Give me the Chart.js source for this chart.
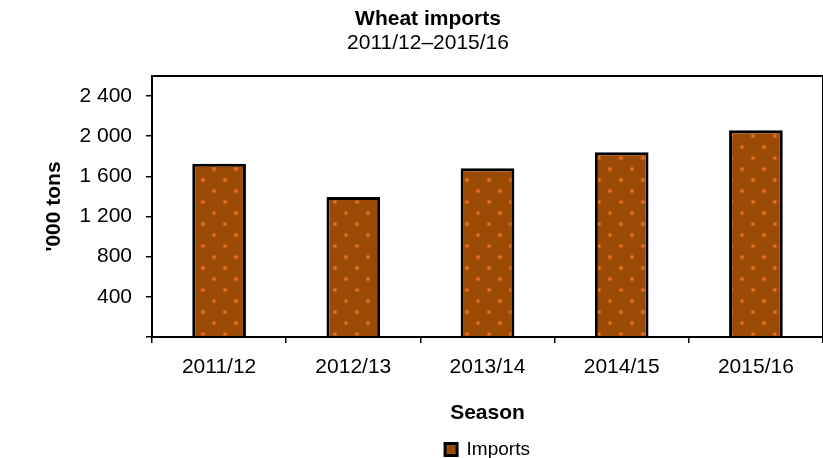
<!DOCTYPE html>
<html>
<head>
<meta charset="utf-8">
<script src="https://cdn.jsdelivr.net/npm/chart.js@4"></script>
<style>
    body { margin: 0; background: #fff; }
    canvas { display: block; }
</style>
</head>
<body>
<canvas id="chart" width="823" height="458"></canvas>
<script>
var seasons = ["2011/12", "2012/13", "2013/14", "2014/15", "2015/16"];
var imports = [1725, 1395, 1680, 1840, 2060];
var yTicks = [0, 400, 800, 1200, 1600, 2000, 2400];

var FONT = "'Liberation Sans', Arial, sans-serif";

// brown fill with staggered orange dots
function dotPattern() {
    var tile = document.createElement("canvas");
    tile.width = 22;
    tile.height = 22;
    var t = tile.getContext("2d");
    t.fillStyle = "#9b4a06";
    t.fillRect(0, 0, 22, 22);
    [[5, 4], [16, 15]].forEach(function (p) {
        t.fillStyle = "rgba(240,120,30,0.4)";
        t.beginPath();
        t.arc(p[0], p[1], 2.6, 0, Math.PI * 2);
        t.fill();
        t.fillStyle = "#ee761c";
        t.beginPath();
        t.arc(p[0], p[1], 1.2, 0, Math.PI * 2);
        t.fill();
    });
    return document.getElementById("chart").getContext("2d").createPattern(tile, "repeat");
}

function spaced(v) {
    return String(v).replace(/\B(?=(\d{3})+(?!\d))/g, " ");
}

var frame = {
    id: "frame",
    afterDraw: function (chart) {
        var a = chart.chartArea, ctx = chart.ctx;
        ctx.save();
        ctx.strokeStyle = "#000";
        ctx.lineWidth = 2;
        ctx.strokeRect(a.left, a.top, a.right - a.left, a.bottom - a.top);
        ctx.restore();
    }
};

var example = new Chart(document.getElementById("chart"), {
    type: "bar",
    data: {
        labels: seasons,
        datasets: [
            {
                label: "Imports",
                data: imports,
                backgroundColor: dotPattern(),
                borderColor: "#000",
                borderWidth: 3,
                barPercentage: 0.4,
                categoryPercentage: 1
            }
        ]
    },
    options: {
        responsive: false,
        animation: false,
        layout: { padding: { left: 24, right: -9, top: 0, bottom: -11 } },
        plugins: {
            title: {
                display: true,
                text: "Wheat imports",
                color: "#000",
                font: { family: FONT, size: 21, weight: "bold", lineHeight: 1 },
                padding: { top: 9, bottom: 3 }
            },
            subtitle: {
                display: true,
                text: "2011/12\u20132015/16",
                color: "#000",
                font: { family: FONT, size: 21, lineHeight: 1 },
                padding: { top: 0, bottom: 22 }
            },
            legend: {
                position: "bottom",
                fullSize: false,
                labels: {
                    color: "#000",
                    font: { family: FONT, size: 19 },
                    boxWidth: 12,
                    boxHeight: 12,
                    padding: 0
                }
            },
            tooltip: { enabled: false }
        },
        scales: {
            x: {
                grid: { display: true, drawOnChartArea: false, tickLength: 6, color: "#000", lineWidth: 1.5 },
                border: { color: "#000", width: 2 },
                ticks: { color: "#000", font: { family: FONT, size: 21, lineHeight: 1 }, padding: 14, maxRotation: 0 },
                title: {
                    display: true,
                    text: "Season",
                    color: "#000",
                    font: { family: FONT, size: 21, weight: "bold", lineHeight: 1 },
                    padding: { top: 11, bottom: 16 }
                }
            },
            y: {
                min: 0,
                max: 2600,
                afterBuildTicks: function (scale) {
                    scale.ticks = yTicks.map(function (v) { return { value: v }; });
                },
                afterFit: function (scale) {
                    scale.width = 128;
                },
                grid: { display: true, drawOnChartArea: false, tickLength: 6, color: "#000", lineWidth: 1.5 },
                border: { color: "#000", width: 2 },
                ticks: {
                    color: "#000",
                    font: { family: FONT, size: 21 },
                    padding: 14,
                    callback: function (v) { return v === 0 ? "" : spaced(v); }
                },
                title: {
                    display: true,
                    text: "'000 tons",
                    color: "#000",
                    font: { family: FONT, size: 21, weight: "bold", lineHeight: 1 },
                    padding: { top: 20, bottom: 0 }
                }
            }
        }
    },
    plugins: [frame]
});
</script>
</body>
</html>
